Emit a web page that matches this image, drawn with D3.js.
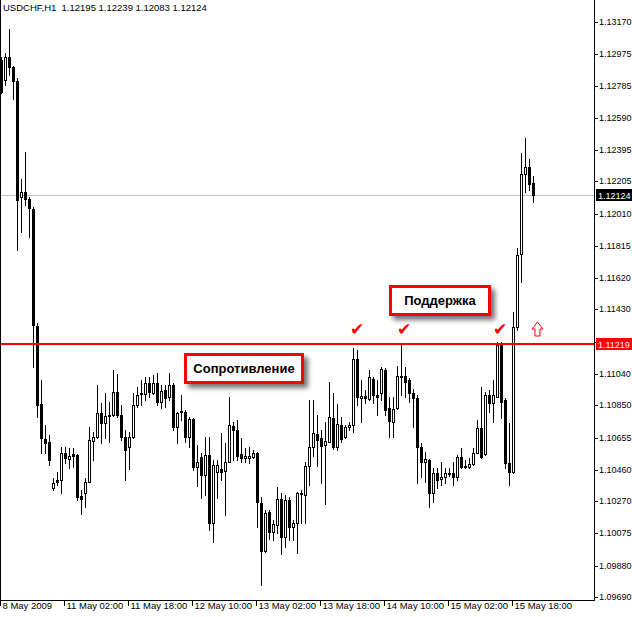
<!DOCTYPE html>
<html><head><meta charset="utf-8">
<script src="https://cdn.jsdelivr.net/npm/d3@7"></script>
<style>
html,body{margin:0;padding:0;background:#fff;}
svg{display:block;}
text{font-family:"Liberation Sans",Arial,sans-serif;}
</style></head>
<body>
<svg id="c" width="632" height="617"></svg>
<script>
// ---- DATA (USDCHF, H1) ----
const symbolTitle = "USDCHF,H1";
const open = [
1.12940,1.12819,1.12958,1.12898,1.12813,1.12111,1.12141,1.12099,1.12038,1.11330,
1.10858,1.10646,1.10628,1.10350,1.10398,1.10398,1.10561,1.10525,1.10555,1.10549,
1.10301,1.10319,1.10386,1.10634,1.10658,1.10804,1.10743,1.10791,1.10791,1.10931,
1.10791,1.10658,1.10598,1.10658,1.10852,1.10918,1.10918,1.10985,1.10925,1.10985,
1.10870,1.10943,1.10900,1.10973,1.10719,1.10810,1.10810,1.10658,1.10767,1.10477,
1.10537,1.10428,1.10549,1.10138,1.10446,1.10465,1.10453,1.10507,1.10725,1.10701,
1.10555,1.10531,1.10531,1.10537,1.10561,1.10259,1.09968,1.10204,1.10083,1.10126,
1.10283,1.10053,1.10277,1.10114,1.10138,1.10313,1.10307,1.10483,1.10598,1.10676,
1.10652,1.10610,1.10628,1.10773,1.10598,1.10731,1.10658,1.10719,1.10731,1.11130,
1.10894,1.10906,1.10888,1.11009,1.10912,1.10925,1.11064,1.10834,1.10749,1.10834,
1.11027,1.11027,1.11003,1.10925,1.10894,1.10598,1.10507,1.10519,1.10319,1.10441,
1.10404,1.10416,1.10441,1.10441,1.10416,1.10537,1.10483,1.10477,1.10495,1.10561,
1.10713,1.10555,1.10912,1.10864,1.10900,1.11215,1.10882,1.10501,1.10446,1.11324,
1.11766,1.12250,1.12292,1.12195];
const high = [
1.12958,1.12982,1.13127,1.12904,1.12831,1.12220,1.12383,1.12111,1.12050,1.11348,
1.11003,1.10731,1.10670,1.10410,1.10446,1.10598,1.10598,1.10592,1.10592,1.10555,
1.10338,1.10410,1.10719,1.10688,1.10973,1.10864,1.10925,1.10870,1.11064,1.11040,
1.10852,1.10701,1.10688,1.10925,1.10961,1.11003,1.11021,1.11021,1.11033,1.11046,
1.10973,1.10973,1.11046,1.10985,1.10810,1.10912,1.10822,1.10779,1.10773,1.10610,
1.10561,1.10658,1.10658,1.10519,1.10519,1.10683,1.10622,1.10900,1.10749,1.10761,
1.10652,1.10592,1.10598,1.10580,1.10567,1.10295,1.10216,1.10216,1.10156,1.10356,
1.10319,1.10307,1.10295,1.10156,1.10325,1.10338,1.10507,1.10882,1.10882,1.10791,
1.10701,1.10749,1.10991,1.10925,1.10858,1.10779,1.10731,1.10749,1.11197,1.11185,
1.11003,1.10943,1.11064,1.11021,1.11003,1.11082,1.11076,1.10900,1.10900,1.11088,
1.11215,1.11082,1.11015,1.10949,1.10912,1.10622,1.10567,1.10525,1.10471,1.10471,
1.10507,1.10471,1.10471,1.10507,1.10549,1.10592,1.10519,1.10531,1.10592,1.10761,
1.10961,1.10931,1.10943,1.11003,1.11233,1.11233,1.10894,1.10743,1.11415,1.11802,
1.12377,1.12468,1.12341,1.12239];
const low = [
1.12740,1.12789,1.12849,1.12704,1.11790,1.11899,1.12062,1.11869,1.11082,1.10779,
1.10561,1.10561,1.10489,1.10338,1.10368,1.10319,1.10501,1.10471,1.10477,1.10277,
1.10192,1.10235,1.10386,1.10519,1.10652,1.10622,1.10652,1.10628,1.10785,1.10779,
1.10640,1.10398,1.10465,1.10652,1.10840,1.10852,1.10882,1.10900,1.10918,1.10852,
1.10834,1.10840,1.10882,1.10701,1.10622,1.10761,1.10628,1.10598,1.10459,1.10362,
1.10289,1.10307,1.10095,1.10023,1.10289,1.10398,1.10186,1.10507,1.10519,1.10519,
1.10507,1.10507,1.10501,1.10531,1.10114,1.09763,1.09962,1.10041,1.10035,1.10077,
1.09950,1.09993,1.10035,1.10035,1.09956,1.10138,1.10138,1.10368,1.10543,1.10483,
1.10380,1.10253,1.10628,1.10586,1.10580,1.10628,1.10652,1.10701,1.10688,1.10852,
1.10749,1.10864,1.10882,1.10864,1.10791,1.10882,1.10791,1.10658,1.10658,1.10828,
1.10912,1.10900,1.10870,1.10719,1.10380,1.10416,1.10386,1.10235,1.10265,1.10350,
1.10368,1.10380,1.10422,1.10368,1.10398,1.10471,1.10471,1.10471,1.10489,1.10561,
1.10531,1.10549,1.10810,1.10749,1.10900,1.10773,1.10471,1.10368,1.10440,1.11306,
1.11596,1.12141,1.12153,1.12083];
const close = [
1.12746,1.12958,1.12898,1.12813,1.12093,1.12141,1.12099,1.12044,1.11336,1.10852,
1.10652,1.10622,1.10519,1.10380,1.10386,1.10561,1.10531,1.10543,1.10543,1.10295,
1.10283,1.10386,1.10640,1.10658,1.10804,1.10743,1.10785,1.10785,1.10931,1.10791,
1.10658,1.10580,1.10658,1.10852,1.10912,1.10925,1.10985,1.10931,1.10985,1.10870,
1.10937,1.10894,1.10973,1.10719,1.10804,1.10816,1.10658,1.10767,1.10477,1.10507,
1.10428,1.10549,1.10138,1.10489,1.10489,1.10446,1.10507,1.10731,1.10701,1.10543,
1.10531,1.10543,1.10543,1.10561,1.10265,1.09968,1.10198,1.10083,1.10132,1.10283,
1.10053,1.10277,1.10114,1.10138,1.10319,1.10319,1.10483,1.10598,1.10683,1.10640,
1.10604,1.10634,1.10779,1.10598,1.10737,1.10646,1.10719,1.10731,1.11130,1.10900,
1.10906,1.10894,1.11021,1.10912,1.10900,1.11070,1.10822,1.10755,1.10828,1.11027,
1.11021,1.10991,1.10925,1.10894,1.10598,1.10507,1.10525,1.10319,1.10441,1.10398,
1.10416,1.10441,1.10434,1.10416,1.10537,1.10477,1.10477,1.10495,1.10561,1.10713,
1.10537,1.10912,1.10864,1.10912,1.11215,1.10870,1.10501,1.10446,1.11324,1.11760,
1.12250,1.12292,1.12189,1.12124];
const priceTicks = [1.13170,1.12975,1.12785,1.12590,1.12395,1.12205,1.12010,1.11815,1.11620,1.11430,
  1.11235,1.11040,1.10850,1.10655,1.10460,1.10270,1.10075,1.09880,1.09690];
const timeTickIndex = [0,16,32,48,64,80,96,112,128];
const timeTickLabels = ["8 May 2009","11 May 02:00","11 May 18:00","12 May 10:00","13 May 02:00",
  "13 May 18:00","14 May 10:00","15 May 02:00","15 May 18:00"];
const levelPrice = 1.11219;
const annotations = [
  {text:"Сопротивление", bar:60.75, price:1.11073, w:118},
  {text:"Поддержка", bar:109.75, price:1.11487, w:100}
];
const checkBars = [89, 100.75, 124.75];
const arrowBar = 134;

// ---- CHART ----
const svg = d3.select("#c");
const plotRight = 594, plotBottom = 600;
const N = open.length;
const x = d3.scaleLinear().domain([0, N-1]).range([1, 1 + 4*(N-1)]);
const y = d3.scaleLinear().domain([1.09690, 1.13170]).range([597, 22]);
const ry = v => Math.round(y(v));
const fmt = d3.format(".5f");

const defs = svg.append("defs");
const f = defs.append("filter").attr("id","sh").attr("x","-20%").attr("y","-30%").attr("width","150%").attr("height","190%");
f.append("feGaussianBlur").attr("in","SourceAlpha").attr("stdDeviation",2.5).attr("result","b");
f.append("feOffset").attr("in","b").attr("dx",4).attr("dy",4).attr("result","o");
f.append("feComponentTransfer").attr("in","o").attr("result","o2")
  .append("feFuncA").attr("type","linear").attr("slope",0.55);
const fm = f.append("feMerge");
fm.append("feMergeNode").attr("in","o2");
fm.append("feMergeNode").attr("in","SourceGraphic");

svg.append("rect").attr("width",632).attr("height",617).attr("fill","#fff");

const g = svg.append("g").attr("shape-rendering","crispEdges");

// current price line (grey)
const lastClose = close[N-1];
g.append("rect").attr("x",0).attr("y",ry(lastClose)).attr("width",plotRight).attr("height",1).attr("fill","#c0c0c0");

// candles
const cg = g.append("g");
d3.range(N).forEach(i => {
  const cx = Math.round(x(i));
  const yh = ry(high[i]), yl = ry(low[i]);
  const yo = ry(open[i]), yc = ry(close[i]);
  cg.append("rect").attr("x",cx).attr("y",yh).attr("width",1).attr("height",Math.max(1,yl-yh+1)).attr("fill","#000");
  const top = Math.min(yo,yc), bot = Math.max(yo,yc);
  const h = bot-top+1;
  cg.append("rect").attr("x",cx-1).attr("y",top).attr("width",3).attr("height",h).attr("fill","#000");
  if (close[i] > open[i] && h > 2) {
    cg.append("rect").attr("x",cx).attr("y",top+1).attr("width",1).attr("height",h-2).attr("fill","#fff");
  }
});

// level line (red)
g.append("rect").attr("x",0).attr("y",ry(levelPrice)-1).attr("width",plotRight).attr("height",2).attr("fill","#ff0000");

// frame lines
g.append("rect").attr("x",0).attr("y",0).attr("width",1).attr("height",plotBottom+1).attr("fill","#000");
g.append("rect").attr("x",plotRight).attr("y",0).attr("width",1).attr("height",plotBottom+1).attr("fill","#000");
g.append("rect").attr("x",0).attr("y",plotBottom).attr("width",plotRight+1).attr("height",1).attr("fill","#000");

// right axis
const ya = svg.append("g").attr("transform",`translate(${plotRight+0.5},0)`)
  .call(d3.axisRight(y).tickValues(priceTicks).tickSize(3).tickPadding(1.5).tickFormat(fmt));
ya.select(".domain").remove();
ya.selectAll(".tick").attr("transform", d => `translate(0,${ry(d)+0.5})`);
ya.selectAll(".tick line").attr("stroke","#000").attr("shape-rendering","crispEdges");
ya.selectAll(".tick text").attr("fill","#000").attr("font-size","9px")
  .attr("font-family","'Liberation Sans',Arial,sans-serif");

// bottom axis
const xa = svg.append("g").attr("transform",`translate(0,${plotBottom+0.5})`)
  .call(d3.axisBottom(x).tickValues(timeTickIndex).tickSize(5).tickFormat((d,i)=>timeTickLabels[i]));
xa.select(".domain").remove();
xa.selectAll(".tick").attr("transform", d => `translate(${Math.round(x(d))-0.5},0)`);
xa.selectAll(".tick line").attr("stroke","#000").attr("shape-rendering","crispEdges");
xa.selectAll(".tick text").attr("fill","#000").attr("font-size","9.5px").attr("text-anchor","start")
  .attr("x",2).attr("y",2).attr("dy","0.71em")
  .attr("font-family","'Liberation Sans',Arial,sans-serif");

// price labels on axis
function priceTag(p, bg){
  const yy = ry(p);
  svg.append("rect").attr("x",plotRight+2).attr("y",yy-6).attr("width",632-plotRight-2).attr("height",12)
    .attr("fill",bg).attr("shape-rendering","crispEdges");
  svg.append("text").attr("x",plotRight+4).attr("y",yy+3.5).attr("fill","#fff").attr("font-size","9px")
    .text(fmt(p));
}
priceTag(lastClose,"#000");
priceTag(levelPrice,"#ff0000");

// title
svg.append("text").attr("x",3).attr("y",11).attr("font-size","9.5px").attr("fill","#000")
  .attr("xml:space","preserve")
  .text(`${symbolTitle}  ${fmt(open[N-1])} ${fmt(high[N-1])} ${fmt(low[N-1])} ${fmt(close[N-1])}`);

// annotation boxes
annotations.forEach(a => {
  const cx = x(a.bar), cy = y(a.price);
  svg.append("rect")
    .attr("x",Math.round(cx - a.w/2)+0.5).attr("y",Math.round(cy-14)+0.5)
    .attr("width",a.w-1).attr("height",28)
    .attr("fill","#fff").attr("stroke","#ff0000").attr("stroke-width",3).attr("filter","url(#sh)");
  svg.append("text").attr("font-size","13px").attr("font-weight","bold").attr("fill","#000")
    .attr("text-anchor","middle").attr("x",cx).attr("y",Math.round(cy)+5).text(a.text);
});

// check marks
checkBars.forEach(b => {
  svg.append("text").attr("x",x(b)).attr("y",ry(levelPrice)-9).attr("text-anchor","middle")
    .attr("font-family","'DejaVu Sans',sans-serif").attr("font-size","17px").attr("fill","#ff0000").text("\u2714");
});

// up arrow outline
{
  const ax = x(arrowBar)+0.5, ay = ry(levelPrice)-22;
  const p = d3.path();
  p.moveTo(ax, ay); p.lineTo(ax+5.5, ay+7); p.lineTo(ax+2.5, ay+7); p.lineTo(ax+2.5, ay+14);
  p.lineTo(ax-2.5, ay+14); p.lineTo(ax-2.5, ay+7); p.lineTo(ax-5.5, ay+7); p.closePath();
  svg.append("path").attr("d",p.toString()).attr("fill","#fff").attr("stroke","#ff0000").attr("stroke-width",1);
}
</script>
</body></html>
